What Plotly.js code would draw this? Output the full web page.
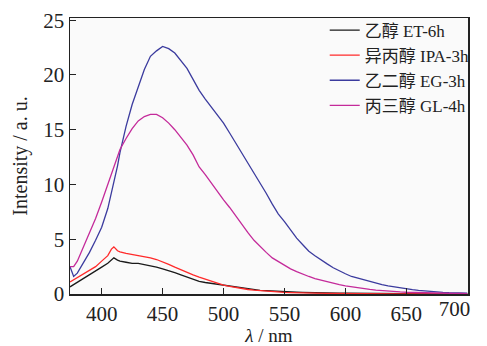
<!DOCTYPE html>
<html>
<head>
<meta charset="utf-8">
<script src="https://cdn.plot.ly/plotly-3.0.1.min.js"></script>
<style>html,body{margin:0;padding:0;background:#fff;}#chart{width:487px;height:346px;}</style>
</head>
<body>
<div id="chart"></div>
<script>
var wavelength = [374,377,380,385,390,395,400,405,408,410,413,415,420,425,430,435,440,445,450,455,460,465,470,475,480,485,490,495,500,505,510,515,520,525,530,535,540,545,550,555,560,565,570,575,580,585,590,595,600,605,610,615,620,625,630,635,640,645,650,655,660,665,670,675,680,685,690,695,700];

var et6h = [0.65,0.85,1.05,1.4,1.75,2.1,2.45,2.8,3.1,3.3,3.1,3.0,2.9,2.8,2.8,2.7,2.6,2.45,2.3,2.15,1.95,1.75,1.55,1.35,1.15,1.05,0.97,0.88,0.78,0.68,0.6,0.52,0.45,0.39,0.34,0.3,0.26,0.23,0.2,0.18,0.16,0.14,0.12,0.11,0.1,0.09,0.08,0.07,0.07,0.06,0.06,0.05,0.05,0.05,0.04,0.04,0.04,0.03,0.03,0.03,0.03,0.03,0.02,0.02,0.02,0.02,0.02,0.02,0.02];

var ipa3h = [1.1,1.3,1.5,1.85,2.15,2.5,3.0,3.5,4.1,4.3,3.95,3.85,3.7,3.6,3.55,3.45,3.3,3.15,2.95,2.7,2.45,2.2,1.95,1.75,1.55,1.35,1.15,0.98,0.82,0.69,0.58,0.49,0.41,0.35,0.3,0.25,0.21,0.18,0.15,0.13,0.11,0.1,0.09,0.08,0.07,0.06,0.06,0.05,0.05,0.04,0.04,0.04,0.03,0.03,0.03,0.03,0.02,0.02,0.02,0.02,0.02,0.02,0.02,0.02,0.01,0.01,0.01,0.01,0.01];

var eg3h = [2.5,1.6,1.9,2.8,3.8,4.9,6.1,7.8,9.2,10.1,11.7,12.9,15.3,17.3,19.0,20.5,21.7,22.2,22.6,22.4,22.0,21.3,20.6,19.6,18.6,17.8,17.1,16.4,15.6,14.7,13.8,12.8,11.9,11.0,10.1,9.2,8.2,7.3,6.6,5.8,5.1,4.5,3.9,3.5,3.1,2.75,2.4,2.1,1.85,1.6,1.45,1.25,1.1,0.95,0.85,0.75,0.65,0.55,0.45,0.4,0.33,0.27,0.22,0.18,0.15,0.12,0.1,0.08,0.07];

var gl4h = [2.5,2.5,3.0,4.3,5.5,6.9,8.4,10.0,11.1,11.8,12.7,13.2,14.2,15.1,15.8,16.2,16.4,16.4,16.1,15.6,15.0,14.3,13.6,12.7,11.6,10.9,10.1,9.4,8.6,7.9,7.1,6.3,5.6,4.9,4.3,3.8,3.3,2.95,2.6,2.3,2.05,1.8,1.6,1.4,1.25,1.1,1.0,0.85,0.75,0.65,0.55,0.48,0.42,0.36,0.3,0.26,0.22,0.19,0.16,0.14,0.12,0.1,0.09,0.08,0.07,0.06,0.05,0.05,0.04];

var seriesNames = ["乙醇 ET-6h","异丙醇 IPA-3h","乙二醇 EG-3h","丙三醇 GL-4h"];
var seriesColors = ["#1a1a1a","#ff2a2a","#3b3b9e","#c42a9a"];
var seriesValues = [et6h, ipa3h, eg3h, gl4h];

var xTicks = [400,450,500,550,600,650,700];
var xTickText = ["400","450","500","550","600","650",""];
var xEndTick = [700];
var xEndText = ["700"];
var yTicks = [0,5,10,15,20,25];
var xRange = [374,700.6];

var traces = seriesValues.map(function(v,i){
  return {x: wavelength, y: v, type:'scatter', mode:'lines', name: seriesNames[i],
          line:{color: seriesColors[i], width:1.3}};
});
traces.push({x:[], y:[], xaxis:'x2', yaxis:'y', type:'scatter', mode:'lines', showlegend:false, hoverinfo:'skip'});

var serif = '"Liberation Serif","Times New Roman","Noto Sans CJK SC",serif';

var layout = {
  width:487, height:346,
  margin:{l:70, r:13, t:13, b:52},
  paper_bgcolor:'#ffffff', plot_bgcolor:'#fafafa',
  font:{family:serif, color:'#222', size:18},
  showlegend:true,
  legend:{x:0.64, y:1.02, xanchor:'left', yanchor:'top', bgcolor:'rgba(0,0,0,0)',
          font:{family:serif, size:17, color:'#222'}, tracegroupgap:0},
  xaxis:{range:xRange, tickvals:xTicks, ticktext:xTickText, automargin:false,
         ticks:'inside', ticklen:6, tickcolor:'#222',
         showline:true, linecolor:'#222', linewidth:1.5, mirror:true, showgrid:false, zeroline:false,
         tickfont:{family:serif, size:21, color:'#222'},
         title:{text:'<i>λ</i> / nm', font:{family:serif, size:19, color:'#222'}, standoff:8}},
  xaxis2:{range:xRange, overlaying:'x', anchor:'y', side:'bottom', automargin:false,
         tickvals:xEndTick, ticktext:xEndText, ticks:'', showline:false, showgrid:false, zeroline:false,
         ticklabelposition:'outside left', ticklabelshift:3, ticklabeloverflow:'allow',
         tickfont:{family:serif, size:21, color:'#222'}},
  yaxis:{range:[0,25.2], tickvals:yTicks, ticks:'inside', ticklen:6, tickcolor:'#222', automargin:false,
         showline:true, linecolor:'#222', linewidth:1.5, mirror:true, showgrid:false, zeroline:false,
         tickfont:{family:serif, size:21, color:'#222'},
         title:{text:'Intensity / a. u.', font:{family:serif, size:20, color:'#222'}, standoff:10}}
};

Plotly.newPlot('chart', traces, layout, {displayModeBar:false, staticPlot:true});
</script>
</body>
</html>
